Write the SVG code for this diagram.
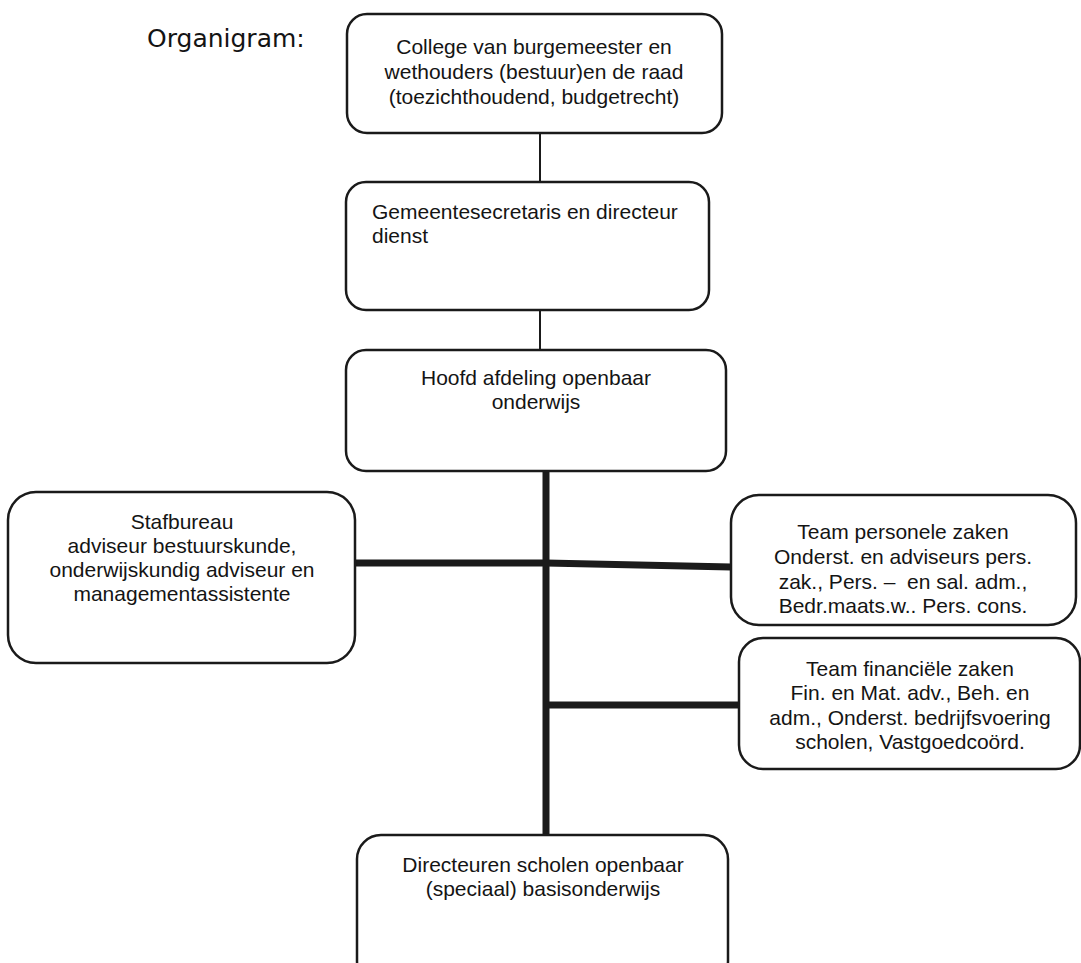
<svg xmlns="http://www.w3.org/2000/svg" width="1081" height="963" viewBox="0 0 1081 963">
<style>
.box{fill:#fff;stroke:#1a1a1a;stroke-width:2.5}
.t{font-family:"Liberation Sans",Arial,sans-serif;font-size:21px;fill:#141414;white-space:pre}
.c{text-anchor:middle}
.thin{stroke:#1a1a1a;stroke-width:2;fill:none}
.thick{stroke:#1a1a1a;stroke-width:7;fill:none}
.title{font-family:"DejaVu Sans",Verdana,sans-serif;font-size:25px;fill:#141414}
</style>
<rect width="1081" height="963" fill="#fff"/>
<text class="title" x="147" y="47">Organigram:</text>
<g id="connectors">
<line class="thin" x1="540" y1="133" x2="540" y2="182"/>
<line class="thin" x1="540" y1="310" x2="540" y2="350"/>
<line class="thick" x1="546" y1="465" x2="546" y2="836"/>
<path class="thick" d="M355 563 L546 563 L731 567"/>
<line class="thick" x1="546" y1="705" x2="739" y2="705"/>
</g>
<g id="college">
<rect class="box" x="347" y="14" width="375" height="119" rx="20"/>
<text class="t c" x="534" y="54">College van burgemeester en</text>
<text class="t c" x="534" y="79">wethouders (bestuur)en de raad</text>
<text class="t c" x="534" y="104">(toezichthoudend, budgetrecht)</text>
</g>
<g id="gemeentesecretaris">
<rect class="box" x="346" y="182" width="363" height="128" rx="20"/>
<text class="t" x="372" y="219">Gemeentesecretaris en directeur</text>
<text class="t" x="372" y="243">dienst</text>
</g>
<g id="hoofd">
<rect class="box" x="346" y="350" width="380" height="121" rx="20"/>
<text class="t c" x="536" y="385">Hoofd afdeling openbaar</text>
<text class="t c" x="536" y="409">onderwijs</text>
</g>
<g id="stafbureau">
<rect class="box" x="8" y="492" width="347" height="171" rx="28"/>
<text class="t c" x="182" y="529">Stafbureau</text>
<text class="t c" x="182" y="553">adviseur bestuurskunde,</text>
<text class="t c" x="182" y="577">onderwijskundig adviseur en</text>
<text class="t c" x="182" y="601">managementassistente</text>
</g>
<g id="personele">
<rect class="box" x="731" y="495" width="345" height="130" rx="28"/>
<text class="t c" x="903" y="539">Team personele zaken</text>
<text class="t c" x="903" y="564">Onderst. en adviseurs pers.</text>
<text class="t c" x="903" y="589">zak., Pers. –  en sal. adm.,</text>
<text class="t c" x="903" y="613">Bedr.maats.w.. Pers. cons.</text>
</g>
<g id="financiele">
<rect class="box" x="739" y="638" width="341" height="131" rx="24"/>
<text class="t c" x="910" y="676">Team financiële zaken</text>
<text class="t c" x="910" y="700">Fin. en Mat. adv., Beh. en</text>
<text class="t c" x="910" y="725">adm., Onderst. bedrijfsvoering</text>
<text class="t c" x="910" y="749">scholen, Vastgoedcoörd.</text>
</g>
<g id="directeuren">
<rect class="box" x="357" y="835" width="371" height="150" rx="24"/>
<text class="t c" x="543" y="872">Directeuren scholen openbaar</text>
<text class="t c" x="543" y="896">(speciaal) basisonderwijs</text>
</g>
</svg>
